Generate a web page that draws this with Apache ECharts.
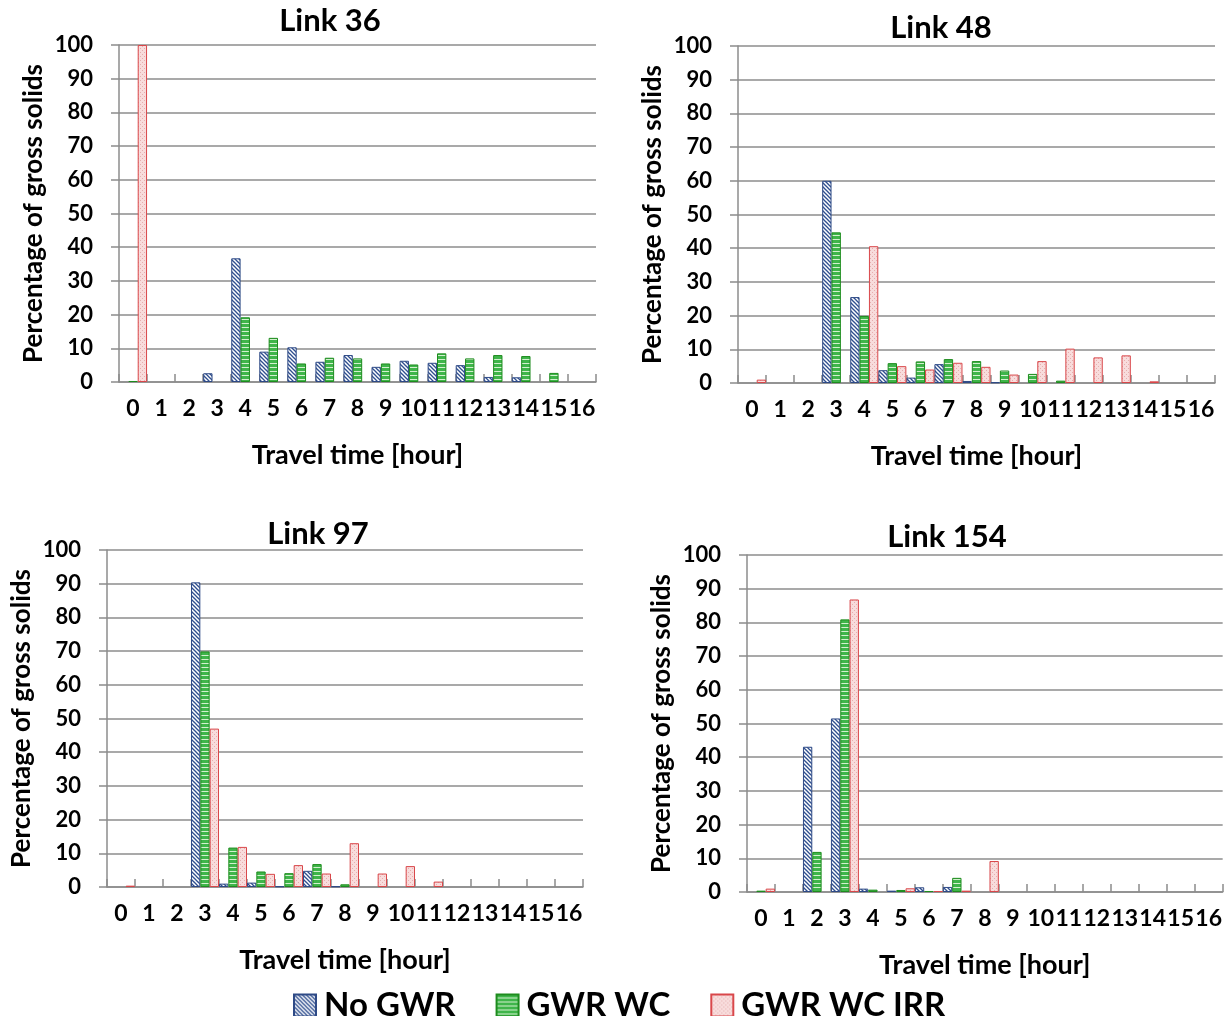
<!DOCTYPE html>
<html>
<head>
<meta charset="utf-8">
<script src="https://cdn.jsdelivr.net/npm/echarts@6/dist/echarts.min.js"></script>
<style>
  html, body { margin: 0; padding: 0; background: #ffffff; }
  #chart { width: 1225px; height: 1016px; }
</style>
</head>
<body>
<div id="chart"></div>
<script>
// ---- data ----
var categories = ['0','1','2','3','4','5','6','7','8','9','10','11','12','13','14','15','16'];
var seriesNames = ['No GWR', 'GWR WC', 'GWR WC IRR'];
var panelTitles = ['Link 36', 'Link 48', 'Link 97', 'Link 154'];
var yTicks = [0,10,20,30,40,50,60,70,80,90,100];

var noGWR36  = [0, 0, 0, 2.6, 36.7, 9.0, 10.3, 6.0, 8.0, 4.5, 6.3, 5.7, 5.0, 1.5, 1.4, 0, 0];
var gwrWC36  = [0.3, 0, 0, 0, 19.2, 13.1, 5.5, 7.2, 7.0, 5.5, 5.2, 8.5, 7.0, 8.0, 7.7, 2.7, 0];
var gwrIRR36 = [100, 0, 0, 0, 0, 0, 0, 0, 0, 0, 0, 0, 0, 0, 0, 0, 0];

var noGWR48  = [0, 0, 0, 60.0, 25.5, 3.8, 1.6, 5.6, 0.6, 0.2, 0, 0, 0, 0, 0, 0, 0];
var gwrWC48  = [0, 0, 0, 44.7, 19.9, 5.9, 6.4, 7.1, 6.5, 3.7, 2.7, 0.7, 0, 0, 0, 0, 0];
var gwrIRR48 = [1.0, 0, 0, 0, 40.6, 5.0, 4.0, 6.0, 4.8, 2.5, 6.5, 10.2, 7.6, 8.2, 0.5, 0, 0];

var noGWR97  = [0, 0, 0, 90.4, 1.0, 1.3, 0.2, 4.8, 0.2, 0, 0, 0, 0, 0, 0, 0, 0];
var gwrWC97  = [0, 0, 0, 69.9, 11.7, 4.6, 4.1, 6.8, 0.8, 0, 0, 0, 0, 0, 0, 0, 0];
var gwrIRR97 = [0.4, 0, 0, 47.0, 11.9, 3.9, 6.5, 4.0, 13.0, 4.0, 6.2, 1.6, 0, 0, 0, 0, 0];

var noGWR154  = [0, 0, 43.1, 51.5, 1.0, 0.4, 1.4, 1.5, 0, 0, 0, 0, 0, 0, 0, 0, 0];
var gwrWC154  = [0.4, 0, 11.9, 80.9, 0.7, 0.6, 0.3, 4.2, 0, 0, 0, 0, 0, 0, 0, 0, 0];
var gwrIRR154 = [1.0, 0, 0, 86.8, 0, 1.1, 0.3, 0.4, 9.2, 0, 0, 0, 0, 0, 0, 0, 0];

var panelData = [
  [noGWR36, gwrWC36, gwrIRR36],
  [noGWR48, gwrWC48, gwrIRR48],
  [noGWR97, gwrWC97, gwrIRR97],
  [noGWR154, gwrWC154, gwrIRR154]
];

// ---- patterns ----
function makeHatch() {
  var c = document.createElement('canvas'); c.width = 4; c.height = 4;
  var g = c.getContext('2d');
  g.fillStyle = '#ffffff'; g.fillRect(0, 0, 4, 4);
  g.strokeStyle = '#2f4f8f'; g.lineWidth = 1.3;
  for (var k = -1; k <= 1; k++) {
    g.beginPath(); g.moveTo(k * 4 - 1, -1); g.lineTo(k * 4 + 5, 5); g.stroke();
  }
  return c;
}
function makeStripes() {
  var c = document.createElement('canvas'); c.width = 4; c.height = 4;
  var g = c.getContext('2d');
  g.fillStyle = '#3fb54a'; g.fillRect(0, 0, 4, 4);
  g.fillStyle = '#d4f0cf'; g.fillRect(0, 3, 4, 1);
  return c;
}
function makeDots() {
  var c = document.createElement('canvas'); c.width = 4; c.height = 4;
  var g = c.getContext('2d');
  g.fillStyle = '#f8dcdc'; g.fillRect(0, 0, 4, 4);
  g.fillStyle = '#e6aeae'; g.fillRect(0, 0, 1, 1); g.fillRect(2, 2, 1, 1);
  return c;
}
var styles = [
  { color: { image: makeHatch(), repeat: 'repeat' }, borderColor: '#2e4a86', borderWidth: 1 },
  { color: { image: makeStripes(), repeat: 'repeat' }, borderColor: '#1e8c1e', borderWidth: 1 },
  { color: { image: makeDots(), repeat: 'repeat' }, borderColor: '#d9474a', borderWidth: 1 }
];

// ---- layout ----
var grids = [
  { left: 119, top: 45, width: 477, height: 337 },
  { left: 738, top: 46, width: 477, height: 337 },
  { left: 107, top: 550, width: 476, height: 337 },
  { left: 747, top: 555, width: 476, height: 337 }
];
var titlePos = [
  { x: 330, y: 5 }, { x: 941, y: 12 }, { x: 318, y: 518 }, { x: 947, y: 521 }
];
var FONT = 'Lato';
var gridColor = '#8c8c8c';

var option = {
  backgroundColor: '#ffffff',
  animation: false,
  title: panelTitles.map(function (t, i) {
    return {
      text: t, left: titlePos[i].x, top: titlePos[i].y, textAlign: 'center', padding: 0,
      textStyle: { fontFamily: FONT, fontWeight: 'bold', fontSize: 31, color: '#000' }
    };
  }),
  legend: {
    left: 288, top: 984, itemWidth: 22, itemHeight: 22, itemGap: 40, icon: 'rect',
    data: seriesNames,
    textStyle: { fontFamily: FONT, fontWeight: 'bold', fontSize: 33, color: '#000', padding: [0, 0, 0, 3] }
  },
  grid: grids,
  xAxis: grids.map(function (g, i) {
    return {
      type: 'category', gridIndex: i, data: categories, boundaryGap: true,
      name: 'Travel time [hour]', nameLocation: 'middle', nameGap: 60,
      nameTextStyle: { fontFamily: FONT, fontWeight: 'bold', fontSize: 27, color: '#000' },
      axisLine: { show: true, lineStyle: { color: gridColor, width: 1.5 } },
      axisTick: { show: true, inside: true, length: 8, lineStyle: { color: gridColor, width: 1.5 } },
      axisLabel: { interval: 0, margin: 15, fontFamily: FONT, fontWeight: 'bold', fontSize: 23, color: '#000' },
      splitLine: { show: false }
    };
  }),
  yAxis: grids.map(function (g, i) {
    return {
      type: 'value', gridIndex: i, min: yTicks[0], max: yTicks[yTicks.length - 1], interval: 10,
      name: 'Percentage of gross solids', nameLocation: 'middle', nameGap: 72,
      nameTextStyle: { fontFamily: FONT, fontWeight: 'bold', fontSize: 26, color: '#000' },
      axisLine: { show: true, lineStyle: { color: gridColor, width: 1.5 } },
      axisTick: { show: true, inside: false, length: 8, lineStyle: { color: gridColor, width: 1.5 } },
      axisLabel: { margin: 26, fontFamily: FONT, fontWeight: 'bold', fontSize: 22, color: '#000' },
      splitLine: { show: true, lineStyle: { color: gridColor, width: 1.5 } }
    };
  }),
  series: []
};

panelData.forEach(function (arr, i) {
  arr.forEach(function (vals, s) {
    option.series.push({
      type: 'bar', name: seriesNames[s], xAxisIndex: i, yAxisIndex: i,
      // zero values are left empty so no flat outline is drawn on the axis
      data: vals.map(function (v) { return v === 0 ? '-' : v; }),
      barGap: '0%', barCategoryGap: '0%',
      itemStyle: styles[s],
      emphasis: { disabled: true }
    });
  });
});

var chart = echarts.init(document.getElementById('chart'), null, { renderer: 'canvas' });
chart.setOption(option);
</script>
</body>
</html>
